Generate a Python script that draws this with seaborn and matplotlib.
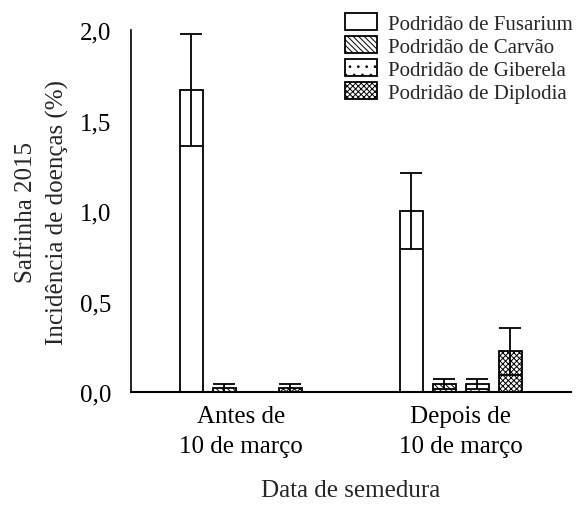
import matplotlib
matplotlib.use("Agg")
import matplotlib.pyplot as plt
from matplotlib.patches import Patch
import numpy as np
import pandas as pd
import seaborn as sns

# Sowing-date groups and disease series
datas = ["Antes de\n10 de março", "Depois de\n10 de março"]
doencas = ["Podridão de Fusarium", "Podridão de Carvão",
           "Podridão de Giberela", "Podridão de Diplodia"]

fusarium = [1.67, 1.00]
carvao = [0.022, 0.045]
giberela = [0.0, 0.045]
diplodia = [0.022, 0.225]

fusarium_err = [0.31, 0.21]
carvao_err = [0.022, 0.027]
giberela_err = [np.nan, 0.027]
diplodia_err = [0.022, 0.13]

y_ticks = [0.0, 0.5, 1.0, 1.5, 2.0]
y_tick_labels = ["0,0", "0,5", "1,0", "1,5", "2,0"]

valores = [fusarium, carvao, giberela, diplodia]
erros = [fusarium_err, carvao_err, giberela_err, diplodia_err]
hatches = ["", "\\\\\\\\\\\\", "..", "xxxxxx"]

df = pd.DataFrame({
    "data": [d for _ in doencas for d in datas],
    "doenca": [n for n in doencas for _ in datas],
    "valor": [v for serie in valores for v in serie],
})

sns.set_style("white")
plt.rcParams["font.family"] = ["Liberation Serif", "DejaVu Serif"]
plt.rcParams["hatch.linewidth"] = 0.7
plt.rcParams["hatch.color"] = "black"

fig = plt.figure(figsize=(5.76, 5.10), dpi=100)
ax = fig.add_axes([0.2274, 0.2294, 0.9913 - 0.2274, 0.9392 - 0.2294])

sns.barplot(data=df, x="data", y="valor", hue="doenca", order=datas,
            hue_order=doencas, palette=["white"] * 4, edgecolor="black",
            linewidth=1.3, width=0.6, gap=0.3, errorbar=None,
            legend=False, ax=ax)

for cont, h, errs in zip(ax.containers, hatches, erros):
    xs, ys = [], []
    for bar in cont.patches:
        bar.set_hatch(h)
        bar.set_edgecolor("black")
        xs.append(bar.get_x() + bar.get_width() / 2)
        ys.append(bar.get_height())
    ax.errorbar(xs, ys, yerr=errs, fmt="none", ecolor="black",
                elinewidth=1.3, capsize=8, capthick=1.3, zorder=5)

ax.set_xlim(-0.5, 1.5)
ax.set_ylim(0, 2.0)
ax.set_xticks(range(len(datas)))
ax.set_xticklabels(datas, linespacing=1.5)
ax.set_yticks(y_ticks)
ax.set_yticklabels(y_tick_labels)
ax.tick_params(axis="both", length=0, labelsize=18, colors="black")
ax.tick_params(axis="y", pad=14)
ax.tick_params(axis="x", pad=9)

for side in ["top", "right"]:
    ax.spines[side].set_visible(False)
ax.spines["bottom"].set_linewidth(1.5)
ax.spines["left"].set_linewidth(1.2)
ax.spines["bottom"].set_color("black")
ax.spines["left"].set_color("black")

ax.set_xlabel("Data de semedura", fontsize=18, labelpad=16)
ax.set_ylabel("Safrinha 2015\nIncidência de doenças (%)", fontsize=18,
              labelpad=8, linespacing=1.5)

handles = [Patch(facecolor="white", edgecolor="black", hatch=h, linewidth=1.3)
           for h in hatches]
fig.legend(handles, doencas, loc="upper left",
           bbox_to_anchor=(345 / 576, 1 - 14 / 510), frameon=False,
           fontsize=15, handlelength=1.55, handleheight=0.85,
           handletextpad=0.5, labelspacing=0.12, borderpad=0,
           borderaxespad=0)

fig.savefig("out.png", dpi=100)
